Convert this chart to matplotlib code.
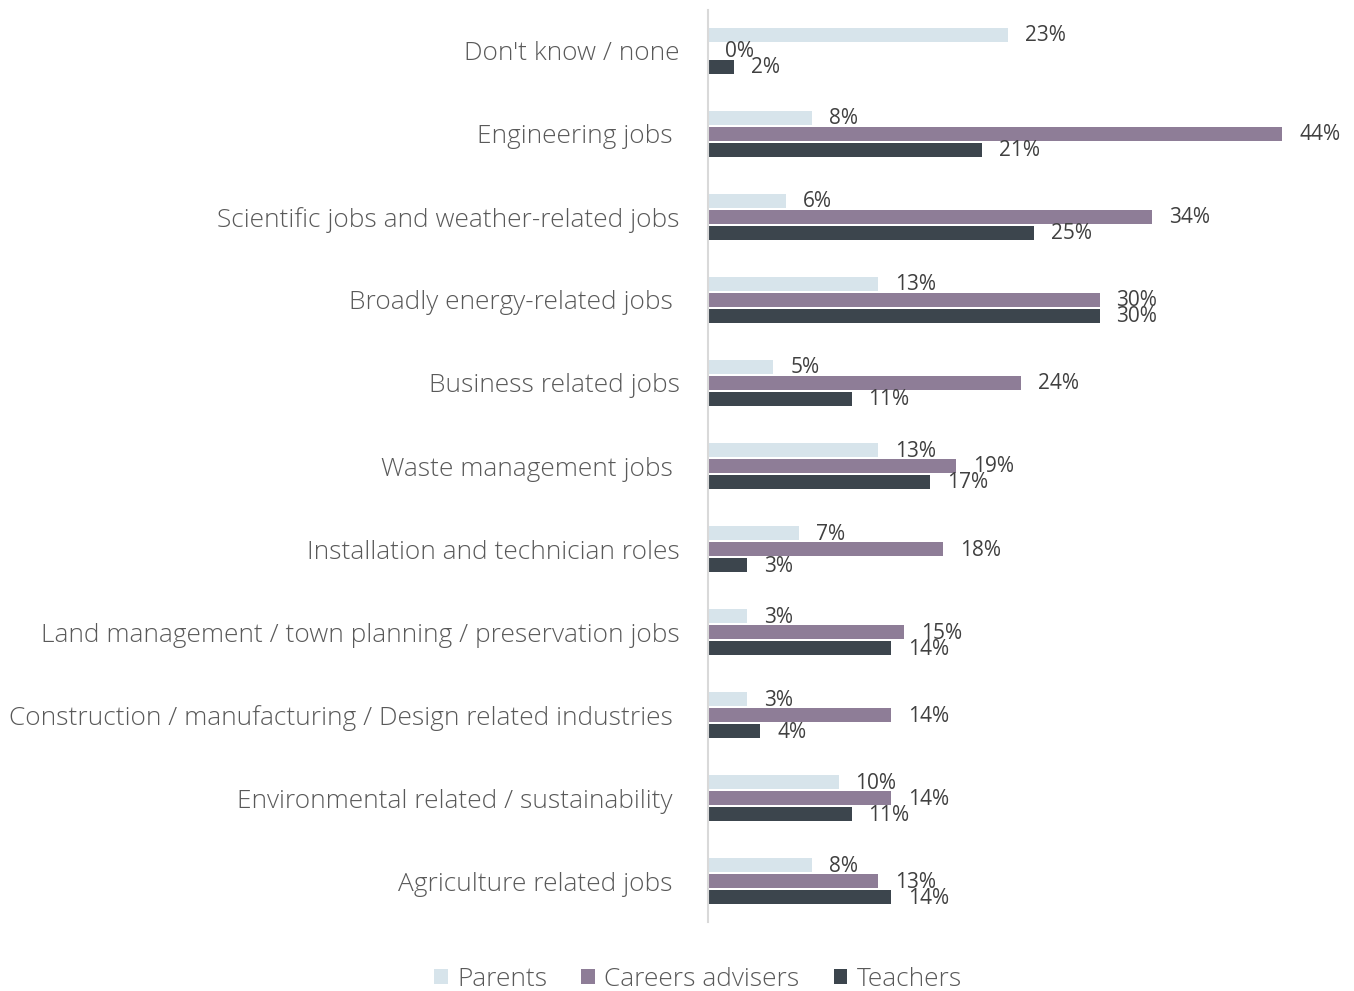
import matplotlib
matplotlib.use("Agg")
import matplotlib.pyplot as plt
from matplotlib.patches import Patch
import numpy as np

categories = [
    "Don't know / none",
    "Engineering jobs ",
    "Scientific jobs and weather-related jobs",
    "Broadly energy-related jobs ",
    "Business related jobs",
    "Waste management jobs ",
    "Installation and technician roles",
    "Land management / town planning / preservation jobs",
    "Construction / manufacturing / Design related industries ",
    "Environmental related / sustainability ",
    "Agriculture related jobs ",
]
series_names = ["Parents", "Careers advisers", "Teachers"]
parents = [23, 8, 6, 13, 5, 13, 7, 3, 3, 10, 8]
careers_advisers = [0, 44, 34, 30, 24, 19, 18, 15, 14, 14, 13]
teachers = [2, 21, 25, 30, 11, 17, 3, 14, 4, 11, 14]

colors = ["#D7E4EB", "#8E7D97", "#3C454D"]
label_color = "#595959"
value_color = "#404040"

plt.rcParams["font.family"] = ["Open Sans", "DejaVu Sans"]

W, H = 1354, 991
fig = plt.figure(figsize=(W / 100, H / 100), dpi=100)
ax_left, ax_right = 708, 708 + 48 * 13.05
ax_top, ax_bottom = 10, 922
ax = fig.add_axes([ax_left / W, (H - ax_bottom) / H,
                   (ax_right - ax_left) / W, (ax_bottom - ax_top) / H])

y = np.arange(len(categories))
bar_h = 0.168
step = 0.1925
for k, (vals, col) in enumerate(zip([parents, careers_advisers, teachers], colors)):
    yy = y + (k - 1) * step
    ax.barh(yy, vals, height=bar_h, color=col, edgecolor="none")
    for yi, v in zip(yy, vals):
        ax.annotate(f"{v}%", (v, yi), xytext=(17, -1), textcoords="offset pixels",
                    ha="left", va="center", fontsize=15, color=value_color)

ax.set_xlim(0, 48)
ax.set_ylim(len(categories) - 0.51, -0.49)
ax.set_yticks(y)
ax.set_yticklabels(categories, fontsize=18.9, color=label_color, fontweight="light")
ax.tick_params(axis="y", length=0, pad=20.5)
ax.set_xticks([])
for s in ["top", "right", "bottom"]:
    ax.spines[s].set_visible(False)
ax.spines["left"].set_color("#D9D9D9")
ax.spines["left"].set_linewidth(1.5)

handles = [Patch(facecolor=c, edgecolor="none") for c in colors]
fig.legend(handles, series_names, loc="center", bbox_to_anchor=(698 / W, 12 / H),
           ncol=3, frameon=False, handlelength=0.52, handleheight=0.52,
           handletextpad=0.35, columnspacing=1.3, borderpad=0,
           labelcolor=label_color, prop={"weight": "light", "size": 18.9})

fig.savefig("out.png", dpi=100)
